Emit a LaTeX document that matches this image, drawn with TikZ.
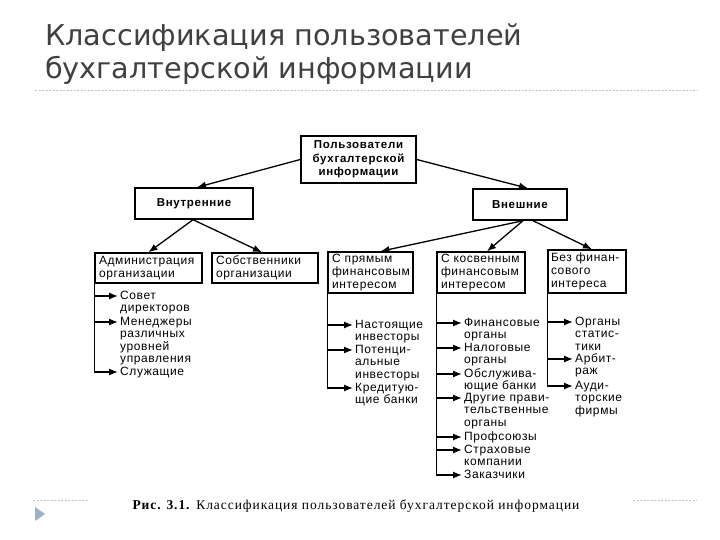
\documentclass[tikz,border=0pt]{standalone}
\usepackage{fontspec}
\setmainfont{Liberation Sans}
\newfontfamily\titlefont{DejaVu Sans}
\newfontfamily\diagfont[LetterSpace=5]{Liberation Sans}
\newfontfamily\boxfont[LetterSpace=6]{Liberation Sans}
\newfontfamily\capfont[LetterSpace=7]{Liberation Serif}
\usetikzlibrary{arrows.meta}
\definecolor{titlegray}{HTML}{404040}
\definecolor{dashgray}{HTML}{BCC6CE}
\definecolor{bulletblue}{HTML}{9CB0C8}
\begin{document}
\begin{tikzpicture}[x=1pt,y=-1pt,
  box/.style={draw, line width=1.4pt, inner sep=0pt, font=\boxfont\bfseries\fontsize{11.5}{13.5}\selectfont, align=center},
  lbox/.style={draw, line width=1.4pt, inner xsep=4pt, inner ysep=0pt, font=\diagfont\fontsize{12}{12.8}\selectfont, align=left},
  item/.style={inner sep=0pt, anchor=north west, align=left, font=\diagfont\fontsize{12}{12.6}\selectfont},
  arr/.style={-{Latex[length=9pt,width=7pt]}, line width=1.3pt},
  vline/.style={line width=1.3pt},
  title/.style={anchor=base west, inner sep=0pt, text=titlegray, font=\titlefont\fontsize{28.7}{33}\selectfont}
]
\useasboundingbox (0,0) rectangle (720,540);
\fill[white] (0,0) rectangle (720,540);

% title
\node[title] (t1) at (45,46) {Классификация пользователей};
\node[title] (t2) at (45,79) {бухгалтерской информации};
\draw[dashgray, line width=0.8pt, dash pattern=on 2pt off 1.5pt] (35,90) -- (697,90);

% level 1
\node[box, minimum width=115pt, minimum height=47pt] (top) at (358.5,159.5) {Пользователи\\бухгалтерской\\информации};
% level 2
\node[box, minimum width=118pt, minimum height=31pt] (vn) at (194,203.5) {Внутренние};
\node[box, minimum width=94pt, minimum height=31pt] (vs) at (520,204.5) {Внешние};
% level 3
\node[lbox, text width=99pt, minimum height=30pt] (adm) at (148.5,268) {Администрация\\организации};
\node[lbox, text width=98pt, minimum height=30pt] (sob) at (265,268) {Собственники\\организации};
\node[lbox, text width=77pt, minimum height=41pt] (pr) at (370.5,272.5) {С прямым\\финансовым\\интересом};
\node[lbox, text width=80pt, minimum height=41pt] (kos) at (481,272.5) {С косвенным\\финансовым\\интересом};
\node[lbox, inner xsep=3pt, text width=72pt, minimum height=43pt] (bez) at (587,271.5) {Без финан-\\сового\\интереса};

\draw[arr] (top.west) -- ([xshift=3pt]vn.north);
\draw[arr] (top.east) -- ([xshift=8pt]vs.north);
\draw[arr] ([xshift=-1pt]vn.south) -- (adm.north);
\draw[arr] ([xshift=-1pt]vn.south) -- ([xshift=-3pt]sob.north);
\draw[arr] ([xshift=3pt]vs.south) -- ([xshift=10pt]pr.north);
\draw[arr] ([xshift=3pt]vs.south) -- ([xshift=6pt]kos.north);
\draw[arr] ([xshift=13pt]vs.south) -- ([xshift=5pt]bez.north);

% items: administration
\node[item] (a1) at (120,290) {\strut Совет\\директоров};
\node[item] (a2) at (120,316) {\strut Менеджеры\\различных\\уровней\\управления};
\node[item] (a3) at (120,366) {\strut Служащие};
% direct interest
\node[item] (p1) at (355,319) {\strut Настоящие\\инвесторы};
\node[item] (p2) at (355,344) {\strut Потенци-\\альные\\инвесторы};
\node[item] (p3) at (355,382) {\strut Кредитую-\\щие банки};
% indirect interest
\node[item] (k1) at (464,317) {\strut Финансовые\\органы};
\node[item] (k2) at (464,342) {\strut Налоговые\\органы};
\node[item] (k3) at (464,368) {\strut Обслужива-\\ющие банки};
\node[item] (k4) at (464,392) {\strut Другие прави-\\тельственные\\органы};
\node[item] (k5) at (464,431) {\strut Профсоюзы};
\node[item] (k6) at (464,444) {\strut Страховые\\компании};
\node[item] (k7) at (464,469) {\strut Заказчики};
% no financial interest
\node[item] (b1) at (575,316) {\strut Органы\\статис-\\тики};
\node[item] (b2) at (575,353) {\strut Арбит-\\раж};
\node[item] (b3) at (575,380) {\strut Ауди-\\торские\\фирмы};

\foreach \n in {a1,a2,a3,p1,p2,p3,k1,k2,k3,k4,k5,k6,k7,b1,b2,b3}{
  \coordinate (\n t) at ([yshift=-6pt,xshift=-2pt]\n.north west);
}
\draw[vline] (adm.south west) -- (a3t -| adm.west);
\draw[vline] (pr.south west) -- (p3t -| pr.west);
\draw[vline] (kos.south west) -- (k7t -| kos.west);
\draw[vline] (bez.south west) -- (b3t -| bez.west);
\foreach \n in {a1,a2,a3}{\draw[arr] (\n t -| adm.west) -- (\n t);}
\foreach \n in {p1,p2,p3}{\draw[arr] (\n t -| pr.west) -- (\n t);}
\foreach \n in {k1,k2,k3,k4,k5,k6,k7}{\draw[arr] (\n t -| kos.west) -- (\n t);}
\foreach \n in {b1,b2,b3}{\draw[arr] (\n t -| bez.west) -- (\n t);}

% footer
\draw[dashgray, line width=0.8pt, dash pattern=on 2pt off 1.5pt] (33,500) -- (88,500);
\draw[dashgray, line width=0.8pt, dash pattern=on 2pt off 1.5pt] (633,500) -- (697,500);
\fill[bulletblue] (35,507) -- (45,514) -- (35,521) -- cycle;
\node[inner sep=0pt, anchor=base, font=\capfont\fontsize{13.5}{15}\selectfont] (cap) at (356,509) {\textbf{Рис. 3.1.} Классификация пользователей бухгалтерской информации};
\end{tikzpicture}
\end{document}
